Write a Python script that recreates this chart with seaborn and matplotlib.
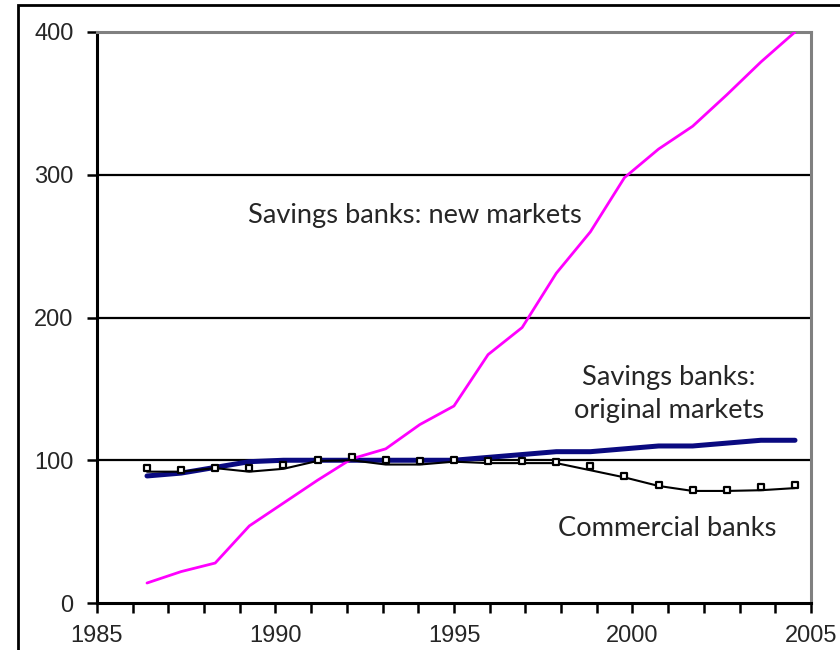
import numpy as np
import pandas as pd
import seaborn as sns
import matplotlib.pyplot as plt
from matplotlib.patches import Rectangle

# ---------------------------------------
# Datos (índice)
# ---------------------------------------
years = list(range(1986, 2006))
new_markets = [14, 22, 28, 54, 70, 86, 101, 108, 125, 138,
               174, 193, 231, 260, 298, 318, 334, 356, 379, 400]
original_markets = [89, 91, 95, 99, 100, 100, 100, 100, 100, 100,
                    102, 104, 106, 106, 108, 110, 110, 112, 114, 114]
commercial_line = [92, 92, 94.5, 92, 94, 99.5, 100, 97, 97, 99,
                   98, 98, 98, 93, 88, 82, 78.5, 78.5, 79, 80.5]
commercial_pts = [94.5, 93, 94.5, 94.5, 96.5, 100, 102, 100, 99.5, 100,
                  99.5, 99.5, 98.5, 96, 89, 83, 79.5, 79.5, 81, 83]
year_labels = ["1985", "1990", "1995", "2000", "2005"]
y_ticks = [0, 100, 200, 300, 400]

df = pd.DataFrame({
    "year": years,
    "new": new_markets,
    "orig": original_markets,
    "comm": commercial_line,
    "comm_pts": commercial_pts,
})

sns.set_style("white")
plt.rcParams["font.family"] = ["Liberation Sans", "DejaVu Sans"]

fig = plt.figure(figsize=(8.4, 6.5), dpi=100)
ax = fig.add_axes([97 / 840, 47 / 650, 714 / 840, 571 / 650])

# marco exterior
fig.patches.append(Rectangle((18 / 840, -0.1), 1.2, 1.1 - 5 / 650,
                             transform=fig.transFigure, fill=False,
                             edgecolor="black", linewidth=2))

# líneas de referencia
for v in y_ticks[1:-1]:
    ax.axhline(v, color="black", linewidth=1.6, zorder=1)

sns.lineplot(data=df, x="year", y="new", ax=ax, color="#FF00FF", linewidth=2.0, zorder=3)
sns.lineplot(data=df, x="year", y="orig", ax=ax, color="#0A0A80", linewidth=3.6, zorder=2)
sns.lineplot(data=df, x="year", y="comm", ax=ax, color="black", linewidth=1.5, zorder=4)
sns.scatterplot(data=df, x="year", y="comm_pts", ax=ax, marker="s", s=22,
                facecolor="white", edgecolor="black", linewidth=1.6, zorder=5)

# ejes
x_lo, x_hi = 1984.534, 2005.469
ax.set_xlim(x_lo, x_hi)
ax.set_ylim(0, 400)
ticks = np.linspace(x_lo, x_hi, 21)
ax.set_xticks(ticks)
ax.set_xticklabels([year_labels[i // 5] if i % 5 == 0 else "" for i in range(21)])
ax.set_yticks(y_ticks)
ax.tick_params(axis="both", direction="out", length=7, width=1.8, color="black",
               labelsize=17, left=True, bottom=True)
ax.tick_params(axis="x", pad=9)
ax.tick_params(axis="y", pad=10)
ax.set_xlabel("")
ax.set_ylabel("")

for side in ["left", "bottom"]:
    ax.spines[side].set_color("black")
    ax.spines[side].set_linewidth(2.2)
for side in ["top", "right"]:
    ax.spines[side].set_color("#808080")
    ax.spines[side].set_linewidth(2.2)

# etiquetas de series
lab = dict(fontsize=19.6, family=["Lato", "DejaVu Sans"], ha="center", va="center")
ax.text(1993.86, 271.8, "Savings banks: new markets", **lab)
ax.text(2001.31, 146.4, "Savings banks:\noriginal markets", multialignment="center",
        linespacing=1.4, **lab)
ax.text(2001.24, 52.5, "Commercial banks", **lab)

plt.savefig("out.png", dpi=100)
